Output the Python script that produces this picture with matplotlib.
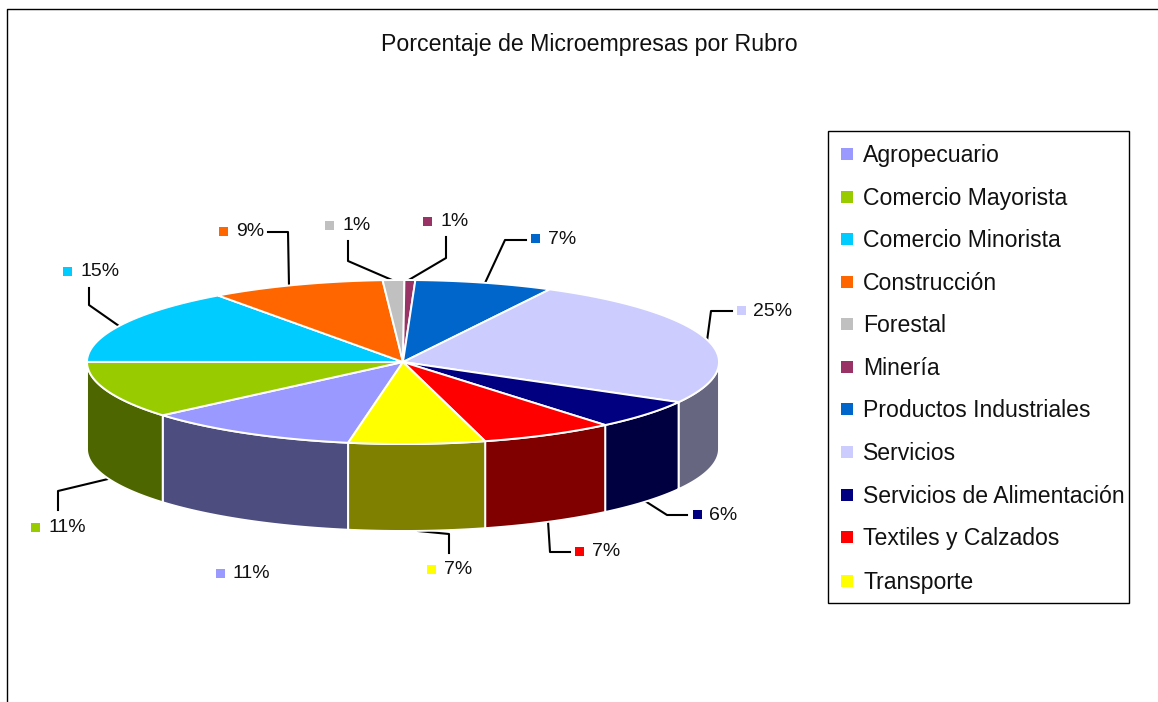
import numpy as np
import matplotlib
matplotlib.use("Agg")
import matplotlib.pyplot as plt
from matplotlib.colors import to_rgb
from matplotlib.patches import Rectangle

plt.rcParams["font.family"] = ["Liberation Sans", "DejaVu Sans"]

titulo = "Porcentaje de Microempresas por Rubro"
rubros = ["Agropecuario", "Comercio Mayorista", "Comercio Minorista", "Construcción",
          "Forestal", "Minería", "Productos Industriales", "Servicios",
          "Servicios de Alimentación", "Textiles y Calzados", "Transporte"]
# the labels show them rounded
porcentajes = [10.95, 11.25, 15.0, 8.9, 1.1, 0.55, 7.05, 25.4, 5.8, 6.85, 6.95]
colores = ["#9999FF", "#99CC00", "#00CCFF", "#FF6600", "#C0C0C0", "#993366",
           "#0066CC", "#CCCCFF", "#000080", "#FF0000", "#FFFF00"]

# layout, everything in image pixels
CX, CY, RX, RY, DEPTH = 403, 362, 316, 82, 87
START = 190.0  # where the first slice begins, clockwise from the top

# marker centre x, marker centre y, text left x, for each slice
pos_etiquetas = [(220, 573, 233), (35, 527, 48), (67, 271, 80), (223.5, 231, 236),
                 (329, 225, 342), (427, 221, 441), (535, 238, 548), (741, 310, 753),
                 (697, 514, 709), (579, 551, 592), (431, 569, 444)]
guias = [None,
         [(58, 510), (58, 491), (108, 479)],
         [(89, 288), (89, 305), (119, 326)],
         [(268, 232), (288, 232), (289, 286)],
         [(348, 241), (348, 261), (392, 280)],
         [(446, 237), (446, 258), (407, 281)],
         [(526, 240), (505, 240), (485, 283)],
         [(732, 311), (711, 311), (707, 341)],
         [(687, 515), (667, 515), (645, 501)],
         [(570, 552), (550, 552), (548, 521)],
         [(449, 553), (449, 534), (418, 531)]]
leyenda_y = [154, 197, 239, 282, 324, 367, 409, 452, 495, 537, 581]


def ellipse(t_deg, dy=0):
    t = np.radians(t_deg)
    return CX + RX * np.sin(t), CY + dy - RY * np.cos(t)


fig = plt.figure(figsize=(11.58, 7.02), dpi=100)
ax = fig.add_axes([0, 0, 1, 1])
ax.set_xlim(0, 1158)
ax.set_ylim(702, 0)
ax.axis("off")

# outer frame, only top and left show in the picture
ax.plot([7, 7, 1158], [702, 9, 9], color="black", lw=1, solid_capstyle="butt")

ax.text(589, 51, titulo, ha="center", va="baseline", fontsize=16.7, color="#111111")

bordes = START + np.cumsum([0] + porcentajes) * 360 / sum(porcentajes)

# side walls first, only the front half of the ellipse (90 to 270 degrees)
for i, c in enumerate(colores):
    a, b = bordes[i] % 360, bordes[i + 1] % 360
    if b < a:
        b += 360
    for off in (0, 360):
        lo, hi = max(a, 90 + off), min(b, 270 + off)
        if hi <= lo:
            continue
        t = np.linspace(lo, hi, 60)
        x1, y1 = ellipse(t)
        x2, y2 = ellipse(t[::-1], DEPTH)
        oscuro = tuple(v * 0.5 for v in to_rgb(c))
        ax.fill(np.r_[x1, x2], np.r_[y1, y2], facecolor=oscuro, edgecolor="white", lw=1.4, zorder=2)

# top of the pie
for i, c in enumerate(colores):
    t = np.linspace(bordes[i], bordes[i + 1], 80)
    x, y = ellipse(t)
    ax.fill(np.r_[CX, x], np.r_[CY, y], facecolor=c, edgecolor="white", lw=1.4, zorder=3)

# data labels and their leader lines
for i, p in enumerate(porcentajes):
    mx, my, tx = pos_etiquetas[i]
    ax.add_patch(Rectangle((mx - 4.5, my - 4.5), 9, 9, facecolor=colores[i], edgecolor="none", zorder=4))
    ax.text(tx, my + 5.5, f"{p:.0f}%", ha="left", va="baseline", fontsize=14, color="#111111", zorder=4)
    if guias[i]:
        gx, gy = zip(*guias[i])
        ax.plot(gx, gy, color="black", lw=1.5, zorder=1)

# legend box
ax.add_patch(Rectangle((828, 131), 301, 472, facecolor="white", edgecolor="black", lw=1, zorder=4))
for nombre, c, y in zip(rubros, colores, leyenda_y):
    ax.add_patch(Rectangle((841, y - 6), 12, 12, facecolor=c, edgecolor="none", zorder=5))
    ax.text(863, y + 8, nombre, ha="left", va="baseline", fontsize=16.6, color="#111111", zorder=5)

fig.savefig("out.png", dpi=100)
plt.close(fig)
